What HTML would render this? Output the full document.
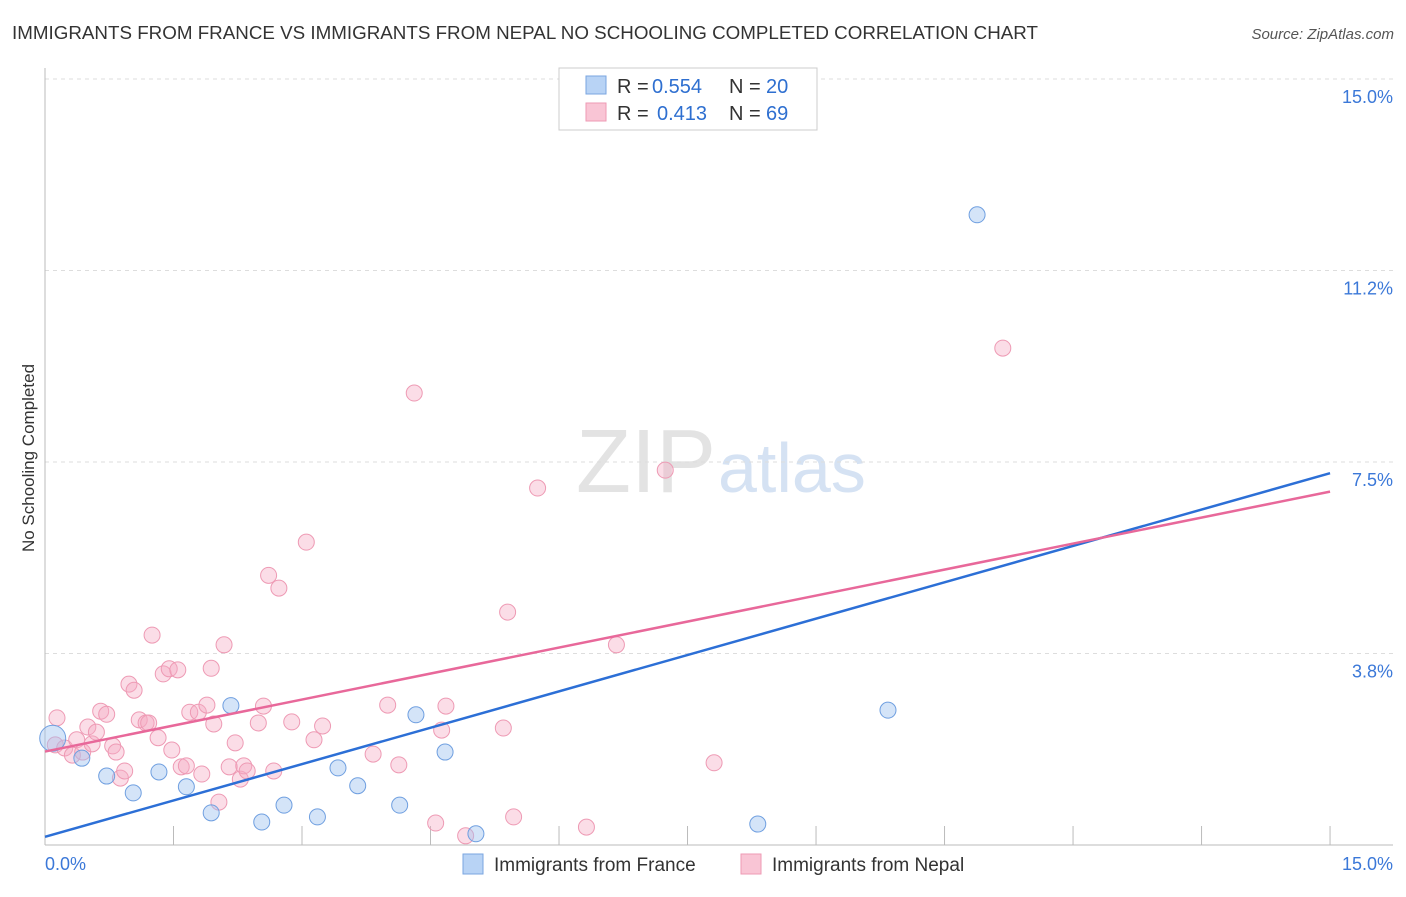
<!DOCTYPE html>
<html><head><meta charset="utf-8"><style>
body{margin:0;background:#fff;font-family:"Liberation Sans",sans-serif;}
svg text{font-family:"Liberation Sans",sans-serif;}
</style></head><body>
<svg id="c" width="1406" height="892">
<text x="12" y="39" font-size="18" fill="#333" textLength="1026" lengthAdjust="spacingAndGlyphs">IMMIGRANTS FROM FRANCE VS IMMIGRANTS FROM NEPAL NO SCHOOLING COMPLETED CORRELATION CHART</text>
<text x="1394" y="39" font-size="15" fill="#555" text-anchor="end" font-style="italic">Source: ZipAtlas.com</text>
<text x="34" y="458" font-size="17" fill="#333" text-anchor="middle" transform="rotate(-90 34 458)">No Schooling Completed</text>
<text x="716" y="492" font-size="90" fill="#e3e3e3" text-anchor="end" font-family="Liberation Serif">ZIP</text>
<text x="718" y="492" font-size="70" fill="#d5e2f3">atlas</text>
<g id="grid"></g><g id="pts"></g><g id="lines"></g>
<g>
<rect x="559" y="68" width="258" height="62" fill="#fff" stroke="#ccc"/>
<rect x="586" y="76" width="20" height="18" fill="#b8d3f5" stroke="#7aa6e0"/>
<rect x="586" y="103" width="20" height="18" fill="#f9c5d5" stroke="#ee9ab4"/>
<text x="617" y="93" font-size="20" fill="#333">R =</text>
<text x="652" y="93" font-size="20" fill="#2e6fd0">0.554</text>
<text x="729" y="93" font-size="20" fill="#333">N =</text>
<text x="766" y="93" font-size="20" fill="#2e6fd0">20</text>
<text x="617" y="120" font-size="20" fill="#333">R =</text>
<text x="657" y="120" font-size="20" fill="#2e6fd0">0.413</text>
<text x="729" y="120" font-size="20" fill="#333">N =</text>
<text x="766" y="120" font-size="20" fill="#2e6fd0">69</text>
</g>
<g>
<rect x="463" y="854" width="20" height="20" fill="#b8d3f5" stroke="#7aa6e0"/>
<text x="494" y="871" font-size="19" fill="#333">Immigrants from France</text>
<rect x="741" y="854" width="20" height="20" fill="#f9c5d5" stroke="#ee9ab4"/>
<text x="772" y="871" font-size="19" fill="#333">Immigrants from Nepal</text>
</g>
</svg>
<script>
const yTicks=[3.75,7.5,11.25,15];
const yTickLabels=["3.8%","7.5%","11.2%","15.0%"];
const franceX=[0.09,0.43,0.72,1.03,1.33,1.65,1.94,2.17,2.53,2.79,3.18,3.42,3.65,4.14,4.33,4.67,5.03,8.32,9.84,10.88];
const franceY=[2.09,1.70,1.35,1.02,1.43,1.14,0.63,2.73,0.45,0.78,0.55,1.51,1.16,0.78,2.55,1.82,0.22,0.41,2.64,12.34];
const nepalX=[0.14,0.12,0.23,0.32,0.37,0.44,0.50,0.55,0.60,0.65,0.72,0.79,0.83,0.88,0.93,0.98,1.04,1.10,1.18,1.21,1.25,1.32,1.38,1.45,1.48,1.55,1.59,1.65,1.69,1.79,1.83,1.89,1.94,1.97,2.03,2.09,2.15,2.22,2.28,2.32,2.36,2.49,2.55,2.61,2.67,2.73,2.88,3.05,3.14,3.24,3.83,4.00,4.13,4.31,4.56,4.63,4.68,4.91,5.35,5.40,5.47,5.75,6.32,6.67,7.24,7.81,11.18];
const nepalY=[2.49,1.96,1.90,1.76,2.06,1.82,2.31,1.98,2.21,2.62,2.56,1.94,1.82,1.31,1.45,3.15,3.03,2.45,2.39,2.39,4.11,2.10,3.35,3.45,1.86,3.43,1.53,1.55,2.60,2.60,1.39,2.74,3.46,2.37,0.84,3.92,1.53,2.00,1.29,1.55,1.45,2.39,2.72,5.28,1.45,5.03,2.41,5.93,2.06,2.33,1.78,2.74,1.57,8.85,0.43,2.25,2.72,0.18,2.29,4.56,0.55,6.99,0.35,3.92,7.34,1.61,9.73];
const trendStart=[0.16,1.83];
const trendEnd=[7.28,6.92];
const X=v=>45+v*85.67, Y=v=>845-v*51.07;
const NS="http://www.w3.org/2000/svg";
function mk(t,a,p){const e=document.createElementNS(NS,t);for(const k in a)e.setAttribute(k,a[k]);p.appendChild(e);return e;}
const grid=document.getElementById('grid');
yTicks.forEach((t,i)=>{
 const l=mk('line',{x1:45,x2:1393,y1:Y(t),y2:Y(t),stroke:'#ddd','stroke-dasharray':'4 4'},grid);
 
 
 const tx=mk('text',{x:1393,y:Y(t)+24,'font-size':18,fill:'#3b78d8','text-anchor':'end'},grid);
 tx.textContent=yTickLabels[i];
 
 
});
mk('line',{x1:45,x2:45,y1:68,y2:845,stroke:'#bbb'},grid);
mk('line',{x1:45,x2:1393,y1:845,y2:845,stroke:'#bbb'},grid);
for(let i=1;i<=10;i++){const tk=mk('line',{x1:X(i*1.5),x2:X(i*1.5),y1:826,y2:845,stroke:'#bbb'},grid);
 
 }
const xl=mk('text',{x:45,y:870,'font-size':18,fill:'#3b78d8'},grid);xl.textContent='0.0%';


const xr=mk('text',{x:1393,y:870,'font-size':18,fill:'#3b78d8','text-anchor':'end'},grid);xr.textContent='15.0%';


const pts=document.getElementById('pts');
nepalX.forEach((v,i)=>{const c=mk('circle',{cx:X(v),cy:Y(nepalY[i]),r:8,fill:'rgba(246,170,195,0.4)',stroke:'#ee9ab4','stroke-width':1},pts);
 
 });
franceX.forEach((v,i)=>{const c=mk('circle',{cx:X(v),cy:Y(franceY[i]),r:i==0?13:8,fill:'rgba(160,195,240,0.45)',stroke:'#6f9fe0','stroke-width':1},pts);
 
 });
const lines=document.getElementById('lines');
const lf=mk('line',{x1:X(0),y1:Y(trendStart[0]),x2:X(15),y2:Y(trendEnd[0]),stroke:'#2c6fd6','stroke-width':2.5},lines);


const ln=mk('line',{x1:X(0),y1:Y(trendStart[1]),x2:X(15),y2:Y(trendEnd[1]),stroke:'#e8689a','stroke-width':2.5},lines);


</script>
</body></html>
